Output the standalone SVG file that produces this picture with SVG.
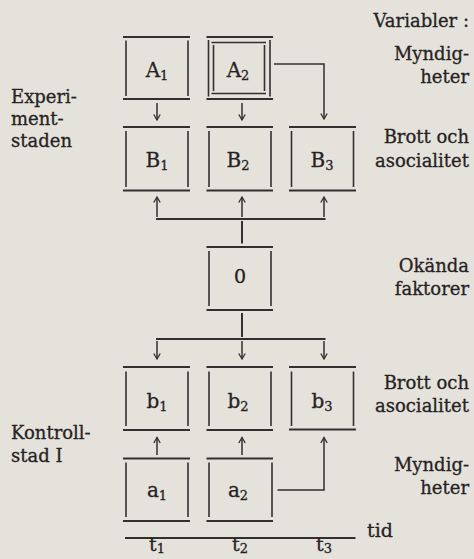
<svg xmlns="http://www.w3.org/2000/svg" width="474" height="559" viewBox="0 0 474 559">
<defs>
<style>
.ln{stroke:#332e30;stroke-width:1.6;fill:none}
.hz{stroke:#332e30;stroke-width:2;fill:none}
.cn{stroke:#332e30;stroke-width:1.5;fill:none}
.ar{marker-end:url(#ah)}
text{font-family:"DejaVu Serif","Liberation Serif",serif;fill:#262223;stroke:#262223;stroke-width:0.3}
.lb{font-size:20px;text-anchor:middle}
.sub{font-size:13px}
.side{font-size:18px}
.rt{text-anchor:end}
</style>
<marker id="ah" viewBox="0 0 8 8" refX="6" refY="4" markerWidth="8" markerHeight="8" markerUnits="userSpaceOnUse" orient="auto">
<path d="M0.5,0.8 L6,4 L0.5,7.2" fill="none" stroke="#332e30" stroke-width="1.3"/>
</marker>
</defs>
<rect x="0" y="0" width="474" height="559" fill="#e4e2db"/>

<g id="A1">
<line class="hz" x1="123" y1="37" x2="190" y2="37"/>
<line class="hz" x1="123" y1="99" x2="190" y2="99"/>
<line class="ln" x1="126" y1="40.5" x2="126" y2="96"/>
<line class="ln" x1="188" y1="40.5" x2="188" y2="96"/>
<text class="lb" x="157" y="77">A<tspan class="sub" dy="3">1</tspan></text>
</g>
<g id="A2">
<line class="hz" x1="206.5" y1="37" x2="273" y2="37"/>
<line class="hz" x1="206.5" y1="99" x2="273" y2="99"/>
<line class="ln" x1="208.5" y1="40" x2="208.5" y2="96.5"/>
<line class="ln" x1="270" y1="40" x2="270" y2="96.5"/>
<line class="ln" x1="211.5" y1="42.5" x2="266" y2="42.5"/>
<line class="ln" x1="211.5" y1="93.5" x2="266" y2="93.5"/>
<line class="ln" x1="213.5" y1="45" x2="213.5" y2="91"/>
<line class="ln" x1="264.5" y1="45" x2="264.5" y2="91"/>
<text class="lb" x="238" y="77">A<tspan class="sub" dy="3">2</tspan></text>
</g>

<g id="B1">
<line class="hz" x1="123" y1="127" x2="190" y2="127"/>
<line class="hz" x1="123" y1="190.5" x2="190" y2="190.5"/>
<line class="ln" x1="126" y1="131" x2="126" y2="187"/>
<line class="ln" x1="188" y1="131" x2="188" y2="187"/>
<text class="lb" x="157" y="167">B<tspan class="sub" dy="3">1</tspan></text>
</g>
<g id="B2">
<line class="hz" x1="206.5" y1="127" x2="273" y2="127"/>
<line class="hz" x1="206.5" y1="190.5" x2="273" y2="190.5"/>
<line class="ln" x1="209" y1="131" x2="209" y2="187"/>
<line class="ln" x1="271" y1="131" x2="271" y2="187"/>
<text class="lb" x="238" y="167">B<tspan class="sub" dy="3">2</tspan></text>
</g>
<g id="B3">
<line class="hz" x1="289" y1="127" x2="356" y2="127"/>
<line class="hz" x1="289" y1="190.5" x2="356" y2="190.5"/>
<line class="ln" x1="291.5" y1="131" x2="291.5" y2="187"/>
<line class="ln" x1="353.5" y1="131" x2="353.5" y2="187"/>
<text class="lb" x="322" y="167">B<tspan class="sub" dy="3">3</tspan></text>
</g>

<g id="O">
<line class="hz" x1="206.5" y1="247" x2="273" y2="247"/>
<line class="hz" x1="206.5" y1="310" x2="273" y2="310"/>
<line class="ln" x1="209" y1="251" x2="209" y2="306"/>
<line class="ln" x1="271" y1="251" x2="271" y2="306"/>
<text class="lb" x="240" y="283" style="font-size:19px">0</text>
</g>

<g id="b1">
<line class="hz" x1="123" y1="367" x2="190" y2="367"/>
<line class="hz" x1="123" y1="430" x2="190" y2="430"/>
<line class="ln" x1="126" y1="371.5" x2="126" y2="426"/>
<line class="ln" x1="188" y1="371.5" x2="188" y2="426"/>
<text class="lb" x="157" y="408">b<tspan class="sub" dy="3">1</tspan></text>
</g>
<g id="b2">
<line class="hz" x1="206.5" y1="367" x2="273" y2="367"/>
<line class="hz" x1="206.5" y1="430" x2="273" y2="430"/>
<line class="ln" x1="209" y1="371.5" x2="209" y2="426"/>
<line class="ln" x1="271" y1="371.5" x2="271" y2="426"/>
<text class="lb" x="238" y="408">b<tspan class="sub" dy="3">2</tspan></text>
</g>
<g id="b3">
<line class="hz" x1="289" y1="367" x2="356" y2="367"/>
<line class="hz" x1="289" y1="429.5" x2="356" y2="429.5"/>
<line class="ln" x1="291.5" y1="371.5" x2="291.5" y2="426"/>
<line class="ln" x1="353.5" y1="371.5" x2="353.5" y2="426"/>
<text class="lb" x="322" y="408">b<tspan class="sub" dy="3">3</tspan></text>
</g>

<g id="a1">
<line class="hz" x1="123" y1="458.5" x2="190" y2="458.5"/>
<line class="hz" x1="123" y1="521" x2="190" y2="521"/>
<line class="ln" x1="126" y1="462.5" x2="126" y2="517"/>
<line class="ln" x1="188" y1="462.5" x2="188" y2="517"/>
<text class="lb" x="157" y="497">a<tspan class="sub" dy="3">1</tspan></text>
</g>
<g id="a2">
<line class="hz" x1="206.5" y1="458.5" x2="273" y2="458.5"/>
<line class="hz" x1="206.5" y1="521" x2="273" y2="521"/>
<line class="ln" x1="209" y1="462.5" x2="209" y2="517"/>
<line class="ln" x1="272" y1="462.5" x2="272" y2="517"/>
<text class="lb" x="238" y="497">a<tspan class="sub" dy="3">2</tspan></text>
</g>

<g id="connectors">
<line class="cn ar" x1="157" y1="103" x2="157" y2="120"/>
<line class="cn ar" x1="242" y1="103" x2="242" y2="120"/>
<polyline class="cn ar" points="274,64 324,64 324,119"/>
<line class="hz" x1="242" y1="221" x2="242" y2="243.5"/>
<line class="hz" x1="156" y1="219" x2="325.5" y2="219"/>
<line class="cn ar" x1="157" y1="217" x2="157" y2="197"/>
<line class="cn ar" x1="242" y1="217" x2="242" y2="197"/>
<line class="cn ar" x1="324" y1="217" x2="324" y2="197"/>
<line class="hz" x1="242" y1="313" x2="242" y2="337"/>
<line class="hz" x1="156" y1="339" x2="325.5" y2="339"/>
<line class="cn ar" x1="157" y1="341" x2="157" y2="359"/>
<line class="cn ar" x1="242" y1="341" x2="242" y2="359"/>
<line class="cn ar" x1="324" y1="341" x2="324" y2="359"/>
<line class="cn ar" x1="157" y1="455" x2="157" y2="437.5"/>
<line class="cn ar" x1="242" y1="455" x2="242" y2="437.5"/>
<polyline class="cn ar" points="277.5,490 324,490 324,437.5"/>
</g>

<g id="timeline">
<line class="hz" x1="125" y1="538" x2="355.5" y2="538"/>
<text class="lb" x="157" y="551" style="font-size:19px">t<tspan class="sub" dy="2">1</tspan></text>
<text class="lb" x="240" y="551" style="font-size:19px">t<tspan class="sub" dy="2">2</tspan></text>
<text class="lb" x="324" y="551" style="font-size:19px">t<tspan class="sub" dy="2">3</tspan></text>
<text class="side" x="367" y="537" style="font-size:19px">tid</text>
</g>

<g id="labels-left">
<text class="side" x="11" y="102.5">Experi-</text>
<text class="side" x="11" y="124.5">ment-</text>
<text class="side" x="11" y="146.5">staden</text>
<text class="side" x="11" y="439">Kontroll-</text>
<text class="side" x="11" y="462">stad I</text>
</g>

<g id="labels-right">
<text class="side rt" x="469" y="27">Variabler :</text>
<text class="side rt" x="469" y="60">Myndig-</text>
<text class="side rt" x="469" y="83">heter</text>
<text class="side rt" x="469" y="143">Brott och</text>
<text class="side rt" x="469" y="166.5">asocialitet</text>
<text class="side rt" x="469" y="272">Okända</text>
<text class="side rt" x="469" y="295">faktorer</text>
<text class="side rt" x="469" y="388.5">Brott och</text>
<text class="side rt" x="469" y="411.5">asocialitet</text>
<text class="side rt" x="469" y="471">Myndig-</text>
<text class="side rt" x="469" y="493.5">heter</text>
</g>
</svg>
